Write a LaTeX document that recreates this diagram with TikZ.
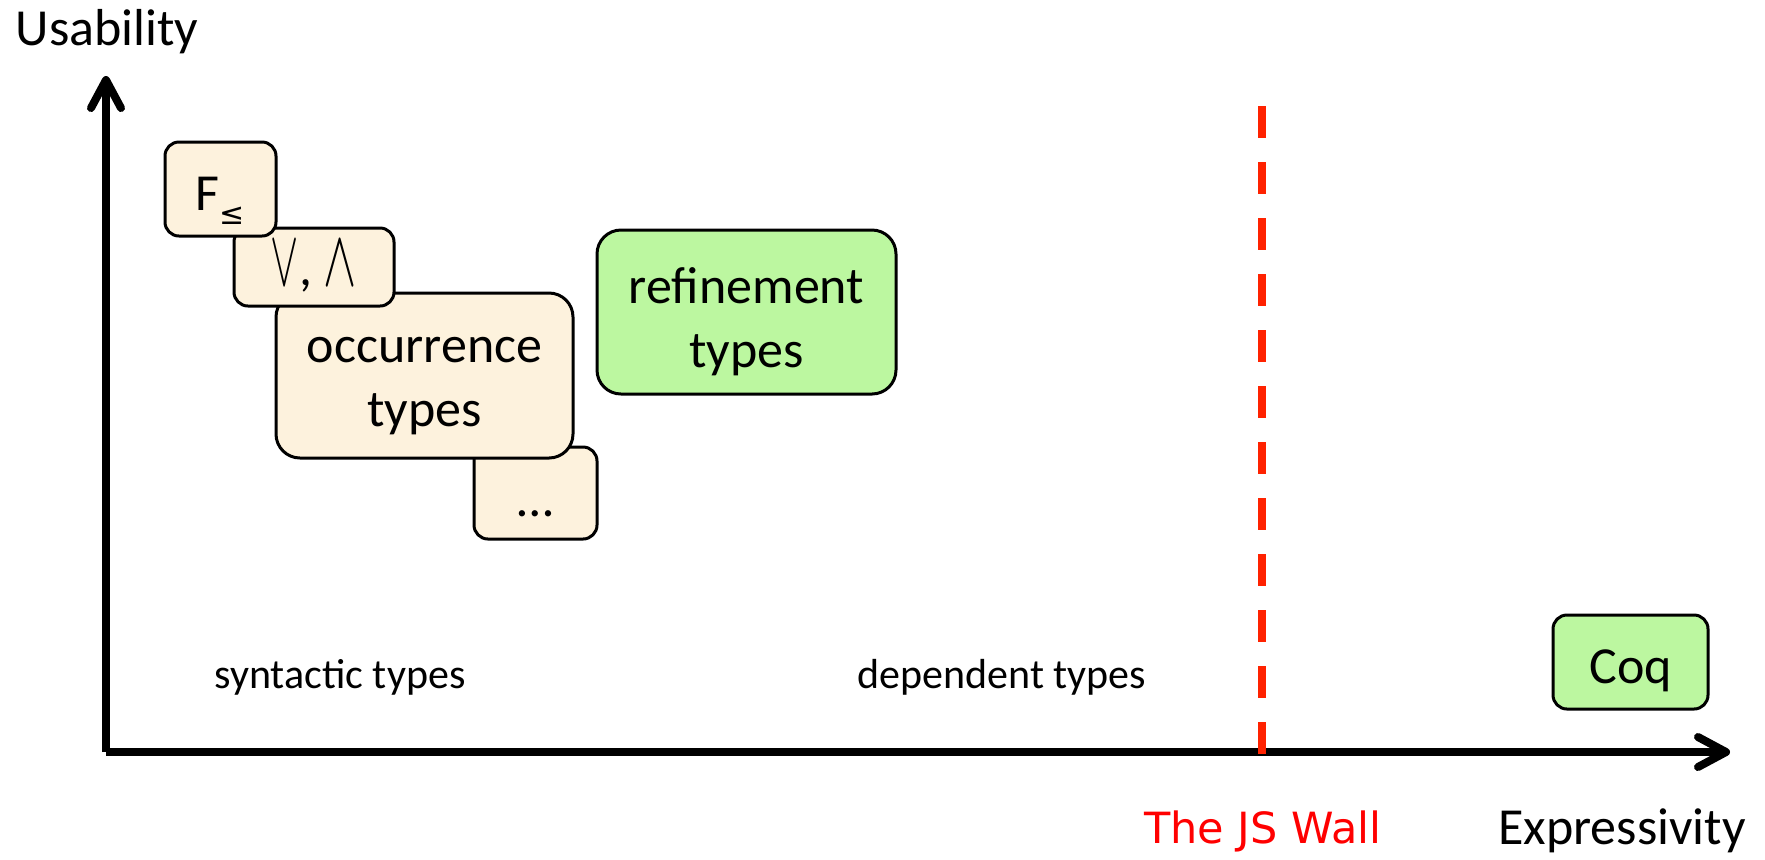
\documentclass[tikz,border=0pt]{standalone}
\usepackage{fontspec}
\usepackage{graphicx}
\setmainfont{Carlito}
\newfontfamily\dejavu{DejaVu Sans}
\usetikzlibrary{arrows.meta}

\definecolor{creambox}{RGB}{253,242,221}
\definecolor{greenbox}{RGB}{188,247,160}
\definecolor{wallred}{RGB}{255,34,0}

\begin{document}
\begin{tikzpicture}[
    x=0.5pt, y=-0.5pt,
    box/.style={
        draw,
        line width=1.5pt,
        rounded corners=7pt,
        align=center,
        anchor=center,
        inner sep=0pt,
        text height=26pt,
        text depth=5pt,
        font=\fontsize{26}{32}\selectfont
    },
    syntbox/.style={box, fill=creambox},
    depbox/.style={box, fill=greenbox},
    boxtxt/.style={align=center, inner sep=0pt, font=\fontsize{26}{32}\selectfont},
    axis/.style={line width=4pt, -{Straight Barb[length=14pt, width=15pt, round]}},
    biglbl/.style={font=\fontsize{26}{31}\selectfont},
    smalllbl/.style={font=\fontsize{21}{25}\selectfont}
]
\useasboundingbox (0,0) rectangle (1765,859);

% Axes
\coordinate (origin) at (106,752);
\coordinate (ytip)   at (106,76);
\coordinate (xtip)   at (1730,752);
\draw[axis] (origin) -- (ytip);
\draw[axis] (origin) -- (xtip);

\node[biglbl] (usab) at (107,32)  {Usability};
\node[biglbl] (expr) at (1622,831) {Expressivity};

% Syntactic types (drawn back to front)
\node[syntbox, minimum width=61.5pt,  minimum height=46pt, text height=28pt] (dots) at (535.5,493) {\dots};
\node[syntbox, minimum width=148.5pt, minimum height=82.5pt, rounded corners=12pt] (occ) at (424.5,375.5) {};
\node[boxtxt] (occtxt) at ([yshift=-5.5pt]occ.center) {occurrence\\types};
\node[syntbox, minimum width=80pt,    minimum height=39pt, text height=23pt] (vee) at (314,267)
    {\scalebox{0.85}[1.6]{$\vee$}, \scalebox{1.0}[1.6]{$\wedge$}};
\node[syntbox, minimum width=55.5pt,  minimum height=47pt] (fsub) at (220.5,189)
    {F{\fontsize{15}{16}\selectfont\raisebox{-7pt}{\dejavu ≤}}};

% Dependent types
\node[depbox, minimum width=149.5pt, minimum height=82pt, rounded corners=12pt] (refine) at (746.5,312) {};
\node[boxtxt] (reftxt) at ([yshift=-5pt]refine.center) {refinement\\types};
\node[depbox, minimum width=77.5pt,  minimum height=47pt] (coq) at (1630.5,662) {Coq};

\node[smalllbl] (synt) at (340,677)  {syntactic types};
\node[smalllbl] (dept) at (1002,677) {dependent types};

% The wall
\coordinate (walltop) at (1262,106);
\coordinate (wallbot) at (1262,754);
\draw[wallred, line width=4pt, dash pattern=on 16pt off 12pt] (walltop) -- (wallbot);
\node[text=red, font=\dejavu\fontsize{21.5}{25}\selectfont] (wall) at (1263,831) {The JS Wall};

\end{tikzpicture}
\end{document}
